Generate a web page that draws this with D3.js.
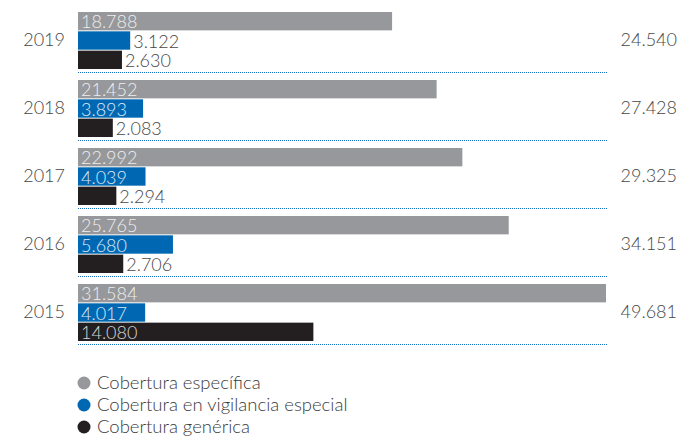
<!DOCTYPE html>
<html>
<head>
<meta charset="utf-8">
<script src="https://cdn.jsdelivr.net/npm/d3@7/dist/d3.min.js"></script>
<style>
  html, body { margin: 0; padding: 0; background: #fff; }
  svg text { font-family: Lato, "Open Sans", sans-serif; font-weight: 300; }
</style>
</head>
<body>
<svg id="chart" width="679" height="436"></svg>
<script>
// Coverage by year (thousands, Spanish decimal notation)
const years = ["2019", "2018", "2017", "2016", "2015"];
const series = ["Cobertura específica", "Cobertura en vigilancia especial", "Cobertura genérica"];
const especifica = [18788, 21452, 22992, 25765, 31584];
const vigilancia = [3122, 3893, 4039, 5680, 4017];
const generica = [2630, 2083, 2294, 2706, 14080];
const totals = [24540, 27428, 29325, 34151, 49681];

const barColors = ["#97989b", "#0068b3", "#231f20"];
const insideText = ["#eeeeee", "#dbe8f5", "#d6d6d6"];

const fmt = v => d3.format(",")(v).replace(/,/g, ".");

const svg = d3.select("#chart");

const y = d3.scaleBand().domain(years).range([8, 348]).paddingInner(0);
const ySub = d3.scaleBand().domain(d3.range(3)).range([4, 61]).paddingInner(0.05);
const x = d3.scaleLinear().domain([0, d3.max(especifica)]).range([78, 606]);

const rows = years.map((yr, i) => ({
  year: yr,
  total: totals[i],
  values: [especifica[i], vigilancia[i], generica[i]]
}));

const g = svg.selectAll("g.year").data(rows).join("g")
  .attr("class", "year")
  .attr("transform", d => `translate(0,${y(d.year)})`);

// separator under each group
g.append("line")
  .attr("x1", 78).attr("x2", 608)
  .attr("y1", 64.5).attr("y2", 64.5)
  .attr("stroke", "#1672c6")
  .attr("stroke-width", 1)
  .attr("stroke-dasharray", "1,1");

// year label
g.append("text")
  .attr("x", 65).attr("y", 38)
  .attr("text-anchor", "end")
  .attr("font-size", 18)
  .attr("fill", "#474747")
  .text(d => d.year);

// total label
g.append("text")
  .attr("x", 677).attr("y", 38)
  .attr("text-anchor", "end")
  .attr("font-size", 18)
  .attr("fill", "#474747")
  .text(d => fmt(d.total));

const bars = g.selectAll("g.bar")
  .data(d => d.values.map((v, k) => ({ v, k })))
  .join("g").attr("class", "bar");

bars.append("rect")
  .attr("x", x(0))
  .attr("y", d => ySub(d.k))
  .attr("width", d => x(d.v) - x(0))
  .attr("height", ySub.bandwidth())
  .attr("fill", d => barColors[d.k]);

bars.append("text")
  .attr("font-size", 18)
  .attr("y", d => ySub(d.k) + ySub.bandwidth() - 2)
  .text(d => fmt(d.v))
  .each(function (d) {
    const w = this.getComputedTextLength();
    const bw = x(d.v) - x(0);
    const inside = bw >= w + 10;
    d3.select(this)
      .attr("x", inside ? x(0) + 3 : x(d.v) + 3)
      .attr("fill", inside ? insideText[d.k] : "#474747");
  });

// legend
const legend = svg.append("g").selectAll("g").data(series).join("g")
  .attr("transform", (d, i) => `translate(84,${383 + i * 22})`);
legend.append("circle").attr("r", 6.5).attr("fill", (d, i) => barColors[i]);
legend.append("text")
  .attr("x", 13).attr("y", 6)
  .attr("font-size", 18.5)
  .attr("fill", "#3a3a3a")
  .text(d => d);
</script>
</body>
</html>
